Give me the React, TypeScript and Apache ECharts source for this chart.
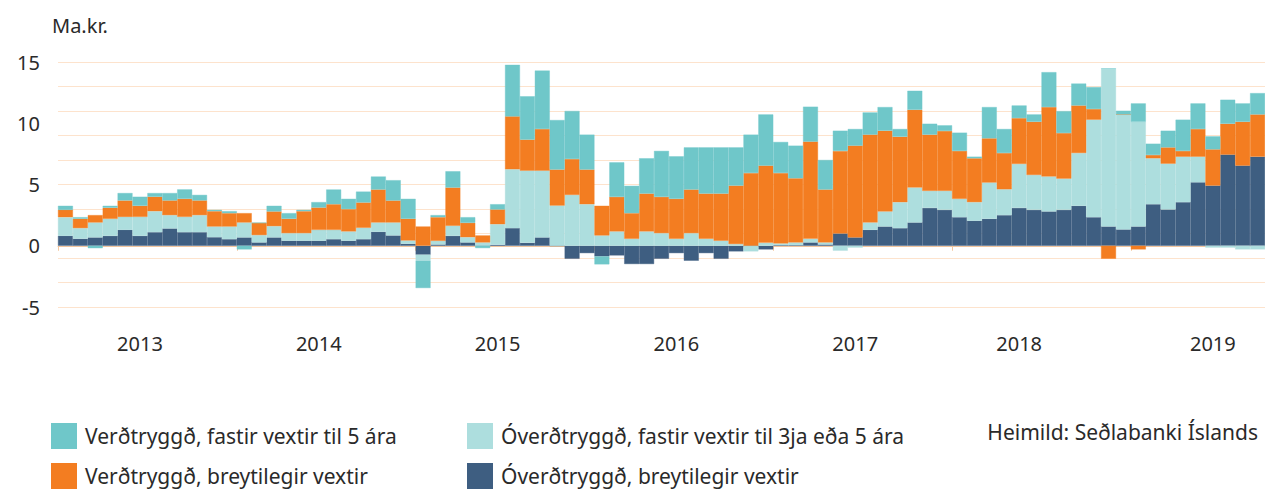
import React, { useEffect, useRef } from "react";
import * as echarts from "echarts";

// Monthly categories, Jan 2013 – Sep 2019
const months: string[] = [];
for (let y = 2013; y <= 2019; y++) {
  for (let m = 1; m <= 12; m++) {
    if (y === 2019 && m > 9) break;
    months.push(`${y}-${String(m).padStart(2, "0")}`);
  }
}

const yearLabels = ["2013", "2014", "2015", "2016", "2017", "2018", "2019"];
const yearLabelIndex = [5, 17, 29, 41, 53, 64, 77];

const nameTeal = "Verðtryggð, fastir vextir til 5 ára";
const nameLight = "Óverðtryggð, fastir vextir til 3ja eða 5 ára";
const nameOrange = "Verðtryggð, breytilegir vextir";
const nameDark = "Óverðtryggð, breytilegir vextir";

// Óverðtryggð, breytilegir vextir
const darkBlue = [
  0.81, 0.57, 0.68, 0.81, 1.3, 0.81, 1.11, 1.41, 1.11, 1.11, 0.7, 0.54,
  0.68, 0.27, 0.68, 0.41, 0.41, 0.41, 0.54, 0.41, 0.54, 1.14, 0.84, 0.16,
  -0.73, 0.1, 0.81, 0.27, 0, 0.08, 1.44, 0.24, 0.68, 0, -1.06, -0.6,
  -0.87, -0.79, -1.49, -1.49, -1.06, -0.6, -1.22, -0.6, -1.06, -0.46, 0, -0.3,
  0.05, 0.05, 0.27, 0.1, 1.0, 0.68, 1.3, 1.57, 1.44, 1.9, 3.09, 2.93,
  2.33, 2.04, 2.2, 2.5, 3.09, 2.93, 2.8, 2.93, 3.26, 2.33, 1.57, 1.33,
  1.57, 3.39, 2.96, 3.56, 5.18, 4.91, 7.44, 6.54, 7.27,
];

// Óverðtryggð, fastir vextir til 3ja eða 5 ára
const lightTeal = [
  1.52, 0.87, 1.22, 1.39, 1.06, 1.55, 1.71, 1.09, 1.25, 1.39, 0.87, 1.03,
  1.22, 0.6, 0.92, 0.62, 0.62, 0.89, 0.76, 0.76, 0.93, 0.76, 1.06, 0.27,
  -0.49, 0.3, 0.82, 0.43, 0.27, 1.68, 4.8, 5.89, 5.45, 3.28, 4.15, 3.39,
  0.84, 1.17, 0.57, 1.17, 1.03, 0.57, 1.03, 0.57, 0.41, 0.14, -0.46, 0.24,
  0.14, 0.22, 0.3, 0.17, -0.4, -0.15, 0.6, 1.23, 2.12, 2.85, 1.39, 1.55,
  1.5, 1.52, 2.96, 2.11, 3.59, 2.85, 2.85, 2.55, 4.31, 7.96, 12.84, 9.39,
  8.55, 3.75, 3.74, 3.71, 2.09, -0.15, -0.15, -0.3, -0.3,
];

// Verðtryggð, breytilegir vextir
const orange = [
  0.6, 0.76, 0.6, 0.9, 1.34, 0.9, 1.18, 1.2, 1.47, 1.2, 1.25, 1.09,
  0.76, 1.0, 1.2, 1.17, 1.79, 1.82, 2.09, 1.82, 2.06, 2.69, 1.79, 1.77,
  1.57, 1.93, 3.12, 1.17, 0.57, 1.2, 4.32, 2.53, 3.4, 2.94, 2.93, 2.83,
  2.42, 2.82, 2.09, 3.09, 2.96, 3.26, 3.56, 3.69, 3.85, 4.77, 5.94, 6.3,
  5.75, 5.24, 7.93, 4.32, 6.74, 7.49, 7.17, 6.59, 5.34, 6.35, 4.59, 4.89,
  3.91, 3.58, 3.61, 2.96, 3.74, 4.34, 5.67, 3.72, 3.88, 0.87, -1.06, 0,
  -0.3, 0.27, 1.33, 0.47, 2.26, 2.96, 2.52, 3.58, 3.45,
];

// Verðtryggð, fastir vextir til 5 ára
const teal = [
  0.33, 0.13, -0.2, 0.16, 0.6, 0.74, 0.3, 0.6, 0.77, 0.45, 0.11, 0.16,
  -0.3, 0, 0.46, 0.46, 0.11, 0.44, 1.2, 0.84, 0.89, 1.06, 1.66, 1.63,
  -2.23, 0.17, 1.33, 0.46, -0.19, 0.43, 4.21, 3.54, 4.77, 4.04, 3.92, 2.85,
  -0.65, 2.82, 2.23, 2.88, 3.75, 3.47, 3.44, 3.77, 3.77, 3.12, 3.13, 4.18,
  2.53, 2.66, 2.85, 2.41, 1.65, 1.36, 1.81, 1.93, 0.63, 1.55, 0.89, 0.46,
  1.49, 0.13, 2.55, 1.96, 1.03, 0.6, 2.85, 1.79, 1.79, 1.79, 0.06, 0.3,
  1.5, 0.92, 1.36, 2.55, 2.09, 1.06, 1.96, 1.5, 1.74,
];

const C_TEAL = "#6fc7c9";
const C_LIGHT = "#addede";
const C_ORANGE = "#f37d21";
const C_DARK = "#3e5e81";
const FONT = "Noto Sans";
const TEXT = "#2a2a2a";

export default function App() {
  const ref = useRef<HTMLDivElement>(null);
  useEffect(() => {
    if (!ref.current) return;
    const chart = echarts.init(ref.current, undefined, { renderer: "svg" });
    const bar = (name: string, data: number[], color: string) => ({
      name,
      type: "bar",
      stack: "total",
      data,
      barCategoryGap: "0%",
      itemStyle: { color, borderColor: color, borderWidth: 0.4 },
      emphasis: { disabled: true },
    });
    const legendItem = (name: string, left: number, top: number) => ({
      data: [name],
      left,
      top,
      padding: 0,
      icon: "rect",
      itemWidth: 24,
      itemHeight: 24,
      selectedMode: false,
      textStyle: { fontFamily: FONT, fontSize: 21, color: TEXT, padding: [0, 0, 0, 4] },
    });
    chart.setOption({
      animation: false,
      textStyle: { fontFamily: FONT },
      title: [
        {
          text: "Ma.kr.",
          left: 52,
          top: 15,
          padding: 0,
          textStyle: { fontFamily: FONT, fontSize: 20, fontWeight: "normal", color: TEXT },
        },
        {
          text: "Heimild: Seðlabanki Íslands",
          right: 7,
          top: 421,
          padding: 0,
          textStyle: { fontFamily: FONT, fontSize: 21, fontWeight: "normal", color: TEXT },
        },
      ],
      legend: [
        legendItem(nameTeal, 51, 423),
        legendItem(nameLight, 467, 423),
        legendItem(nameOrange, 51, 463),
        legendItem(nameDark, 467, 463),
      ],
      grid: { left: 58, right: 0, top: 62, bottom: 182, containLabel: false },
      xAxis: [
        {
          type: "category",
          data: months,
          boundaryGap: true,
          axisLine: { show: true, onZero: true, onZeroAxisIndex: 0, lineStyle: { color: "#f5c8a0", width: 1 } },
          axisTick: {
            show: true,
            interval: (i: number) => i % 12 === 0,
            length: 5,
            lineStyle: { color: "#f5c8a0" },
          },
          axisLabel: { show: false },
          splitLine: { show: false },
        },
        {
          type: "category",
          data: months,
          position: "bottom",
          boundaryGap: true,
          axisLine: { show: false, onZero: false },
          axisTick: { show: false },
          splitLine: { show: false },
          axisLabel: {
            show: true,
            interval: (i: number) => yearLabelIndex.includes(i),
            formatter: (_v: string, i: number) => {
              const p = yearLabelIndex.indexOf(i);
              return p >= 0 ? yearLabels[p] : "";
            },
            margin: 26,
            fontFamily: FONT,
            fontSize: 20,
            color: TEXT,
          },
        },
      ],
      yAxis: [
        {
          type: "value",
          min: -5,
          max: 15,
          interval: 5,
          axisLine: { show: false },
          axisTick: { show: false },
          splitLine: { show: false },
          axisLabel: { margin: 18, fontFamily: FONT, fontSize: 20, color: TEXT },
        },
        {
          type: "value",
          min: 0,
          max: 20,
          interval: 2,
          position: "left",
          axisLine: { show: false },
          axisTick: { show: false },
          axisLabel: { show: false },
          splitLine: { show: true, lineStyle: { color: "#fde3cd", width: 1 } },
        },
      ],
      series: [
        bar(nameDark, darkBlue, C_DARK),
        bar(nameLight, lightTeal, C_LIGHT),
        bar(nameOrange, orange, C_ORANGE),
        bar(nameTeal, teal, C_TEAL),
      ],
    });
    return () => chart.dispose();
  }, []);
  return (
    <div
      ref={ref}
      style={{ position: "fixed", left: 0, top: 0, width: 1265, height: 489, background: "#fff" }}
    />
  );
}
